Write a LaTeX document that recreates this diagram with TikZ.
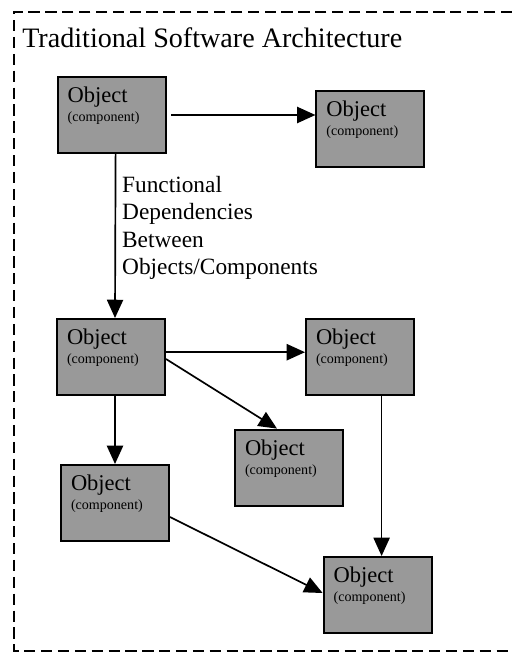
\documentclass[tikz,border=0pt]{standalone}
\usepackage{fontspec}
\setmainfont{Liberation Serif}
\usetikzlibrary{arrows.meta,positioning}
\definecolor{boxgray}{gray}{0.6}
\newcommand{\objtext}{\parbox[c][1.4cm][t]{2.2cm}{\fontsize{16}{17}\selectfont Object\\\fontsize{10}{13.5}\selectfont (component)}}

\begin{document}
\begin{tikzpicture}[>={Triangle[length=13pt,width=11.5pt]},
		objbox/.style={draw, fill=boxgray, line width=1.4pt, inner sep=0.25cm},
		dep/.style={->, line width=1.2pt},
		frame/.style={dash pattern=on 8pt off 4pt, line width=0.9pt}]
		\useasboundingbox (0,0) rectangle (12.8,-16.375);
		\draw[frame] (12.8,-0.3) -- (0.35,-0.3) -- (0.35,-16.275) -- (12.8,-16.275);
		\node (title) [anchor=base west, inner sep=0, font=\fontsize{20}{22}\selectfont] at (0.55,-1.18) {Traditional Software Architecture};
		% objects
		\node (b1) [objbox] at (2.79,-2.875) {\objtext};
		\node (b2) [objbox] at (9.26,-3.225) {\objtext};
		\node (b3) [objbox] at (2.775,-8.925) {\objtext};
		\node (b4) [objbox] at (9.0,-8.925) {\objtext};
		\node (b5) [objbox] at (7.225,-11.69) {\objtext};
		\node (b6) [objbox] at (2.875,-12.575) {\objtext};
		\node (b7) [objbox] at (9.44,-14.875) {\objtext};
		% dependencies
		\draw[dep, shorten <=0.12cm] (b1.east) to (b1.east -| b2.west);
		\draw[dep] ([xshift=0.1cm]b1.south) to node (deps) [right, pos=0.45, align=left, inner xsep=0.15cm, inner ysep=0, font=\fontsize{16.6}{19.6}\selectfont] {Functional\\Dependencies\\Between\\Objects/Components} ([xshift=0.1cm]b3.north);
		\draw[dep] ([yshift=0.12cm]b3.east) to ([yshift=0.12cm]b4.west);
		\draw[dep] ([yshift=-0.05cm]b3.east) to ([xshift=-0.3cm]b5.north);
		\draw[dep] (b3.south -| b6.north) to (b6.north);
		\draw[dep] ([xshift=0.1cm]b7.north |- b4.south) to ([xshift=0.1cm]b7.north);
		\draw[dep] ([yshift=-0.35cm]b6.east) to ([yshift=0.05cm]b7.west);
	\end{tikzpicture}
\end{document}
